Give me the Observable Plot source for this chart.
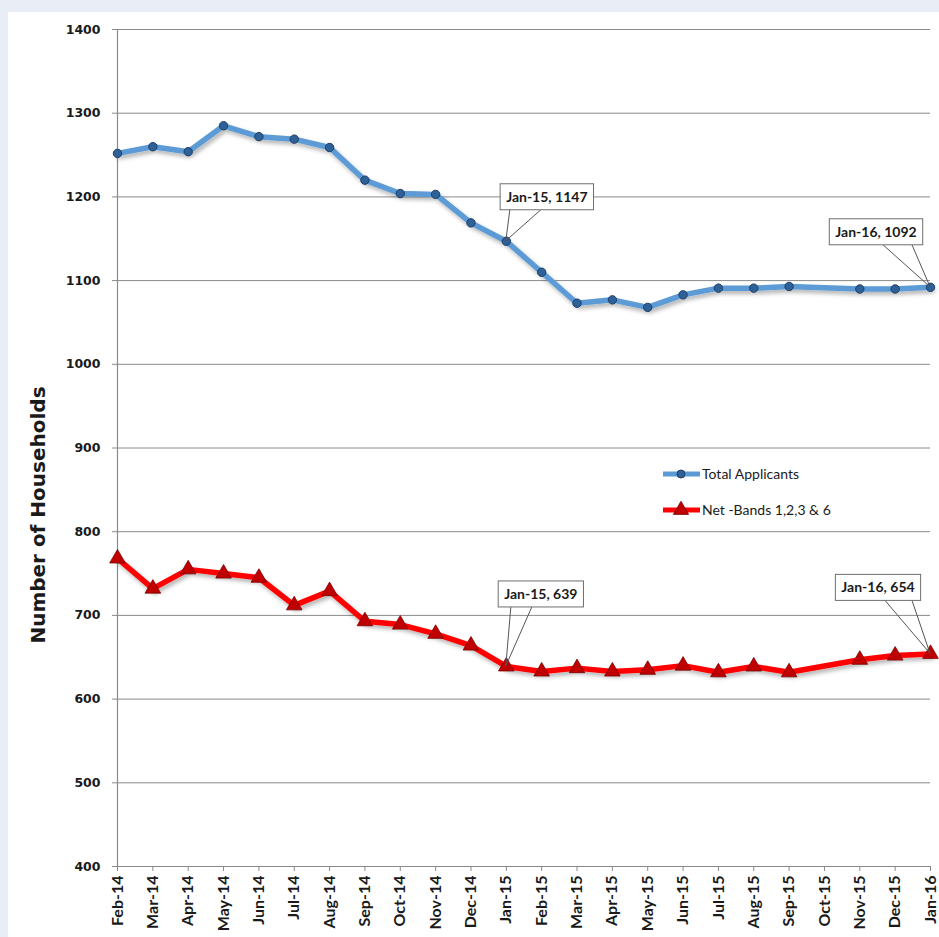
<!DOCTYPE html>
<html><head><meta charset="utf-8">
<script src="https://cdn.jsdelivr.net/npm/d3@7"></script>
<script src="https://cdn.jsdelivr.net/npm/@observablehq/plot@0.6"></script>
<style>
html,body{margin:0;padding:0;background:#e9edf6;}
#wrap{position:relative;width:939px;height:937px;overflow:hidden;}
#panel{position:absolute;left:8px;top:12px;width:931px;height:925px;background:#fff;}
#chart{position:absolute;left:0;top:0;}
#ytitle{position:absolute;left:38px;top:515px;transform:translate(-50%,-50%) rotate(-90deg);font:bold 20px "DejaVu Sans",sans-serif;white-space:nowrap;color:#1a1a1a;}
</style></head><body>
<div id="wrap"><div id="panel"></div><div id="chart"></div><div id="ytitle">Number of Households</div></div>
<script>
// ---- data ----
const months = ["Feb-14","Mar-14","Apr-14","May-14","Jun-14","Jul-14","Aug-14","Sep-14","Oct-14","Nov-14","Dec-14","Jan-15",
                "Feb-15","Mar-15","Apr-15","May-15","Jun-15","Jul-15","Aug-15","Sep-15","Oct-15","Nov-15","Dec-15","Jan-16"];
const totalApplicants = [1252,1260,1254,1285,1272,1269,1259,1220,1204,1203,1169,1147,
                         1110,1073,1077,1068,1083,1091,1091,1093,null,1090,1090,1092];
const netBands = [768,732,755,750,745,712,729,693,689,678,664,639,
                  633,637,633,635,640,632,639,632,null,647,652,654];
const seriesNames = ["Total Applicants","Net -Bands 1,2,3 & 6"];
const yTicks = [400,500,600,700,800,900,1000,1100,1200,1300,1400];
const calloutMonths = ["Jan-15","Jan-16"];

// ---- build tables ----
const seriesValues = [totalApplicants, netBands];
const rows = [];
seriesValues.forEach((vals, s) => months.forEach((m, i) => {
  if (vals[i] != null) rows.push({month: m, value: vals[i], series: seriesNames[s]});
}));
const blue = rows.filter(d => d.series === seriesNames[0]);
const red = rows.filter(d => d.series === seriesNames[1]);
const callouts = rows.filter(d => calloutMonths.includes(d.month)).map(d => ({...d, label: `${d.month}, ${d.value}`}));

const plot = Plot.plot({
  width: 939, height: 937,
  marginLeft: 117, marginRight: 9, marginTop: 29, marginBottom: 71,
  style: {background: "transparent", fontFamily: "Lato, sans-serif", color: "#1a1a1a"},
  x: {type: "point", domain: months, padding: 0, round: false, label: null},
  y: {domain: [400, 1400], label: null},
  marks: [
    Plot.gridY(yTicks, {stroke: "#8a8a8a", strokeOpacity: 1, strokeWidth: 1}),
    Plot.ruleX([months[0]], {stroke: "#8a8a8a", strokeWidth: 1.2}),
    Plot.ruleY([400], {stroke: "#8a8a8a", strokeWidth: 1.2}),
    Plot.axisY(yTicks, {tickSize: 5, tickPadding: 12, tickFormat: d => String(d), stroke: "#8a8a8a", fill: "#1a1a1a"}),
    Plot.axisX(months, {tickSize: 5, tickPadding: 4, tickRotate: -90, stroke: "#8a8a8a", fill: "#1a1a1a"}),
    Plot.line(blue, {x: "month", y: "value", stroke: "#5b9bd5", strokeWidth: 5.5, curve: "linear"}),
    Plot.dot(blue, {x: "month", y: "value", r: 4.2, fill: "#2f6199", stroke: "#1d3e66", strokeWidth: 1}),
    Plot.line(red, {x: "month", y: "value", stroke: "#ff0000", strokeWidth: 5.5}),
    Plot.dot(red, {x: "month", y: "value", symbol: "triangle", r: 5.8, fill: "#c00000", stroke: "#7a0000", strokeWidth: 0.8})
  ]
});
document.getElementById("chart").appendChild(plot);

// ---- post-processing: fonts, shadows, callouts, legend ----
const svg = d3.select(plot);
svg.selectAll('g[aria-label="y-axis tick label"] text')
  .style("font-family", "'DejaVu Sans', sans-serif").style("font-weight", "bold").style("font-size", "12.5px");
svg.selectAll('g[aria-label="x-axis tick label"] text')
  .style("font-family", "Lato, sans-serif").style("font-weight", "bold").style("font-size", "16px");

const defs = svg.insert("defs", ":first-child");
defs.append("filter").attr("id", "shadow").attr("x", "-5%").attr("y", "-20%").attr("width", "110%").attr("height", "140%")
  .append("feDropShadow").attr("dx", 2).attr("dy", 3).attr("stdDeviation", 2).attr("flood-color", "#000").attr("flood-opacity", 0.3);
svg.selectAll('g[aria-label="line"]').attr("filter", "url(#shadow)");

const xs = plot.scale("x"), ys = plot.scale("y");
const X = v => xs.apply(v), Y = v => ys.apply(v);

const layout = {
  "Jan-15|Total Applicants": {dx: 41, dy: -44, feet: [-37, -6]},
  "Jan-16|Total Applicants": {dx: -54, dy: -55, feet: [7, 36]},
  "Jan-15|Net -Bands 1,2,3 & 6": {dx: 35, dy: -72, feet: [-30, -9]},
  "Jan-16|Net -Bands 1,2,3 & 6": {dx: -52, dy: -66, feet: [7, 34]}
};
const cg = svg.append("g").attr("class", "callouts");
callouts.forEach(c => {
  const L = layout[`${c.month}|${c.series}`];
  const px = X(c.month), py = Y(c.value);
  const cx = px + L.dx, cy = py + L.dy;
  const g = cg.append("g");
  const rect = g.append("rect");
  const t = g.append("text").attr("x", cx).attr("y", cy).attr("text-anchor", "middle").attr("dy", "0.35em")
    .attr("font-family", "Lato, sans-serif").attr("font-weight", "bold").attr("font-size", 14).attr("fill", "#1a1a1a").text(c.label);
  const bb = t.node().getBBox();
  const padX = 6, h = 26;
  const bx = bb.x - padX, bw = bb.width + 2 * padX, by = cy - h / 2;
  rect.attr("x", bx).attr("y", by).attr("width", bw).attr("height", h)
    .attr("fill", "#fff").attr("stroke", "#6e6e6e").attr("stroke-width", 1);
  L.feet.forEach(f => {
    g.insert("line", ":first-child").attr("x1", cx + f).attr("y1", by + h).attr("x2", px).attr("y2", py)
      .attr("stroke", "#555").attr("stroke-width", 1);
  });
});

// legend
const lg = svg.append("g").attr("font-family", "Lato, sans-serif").attr("font-size", 14).attr("fill", "#1a1a1a").attr("text-anchor", "start");
const legendItems = [
  {name: seriesNames[0], color: "#5b9bd5", y: 474, sym: "dot"},
  {name: seriesNames[1], color: "#ff0000", y: 510, sym: "tri"}
];
legendItems.forEach(it => {
  lg.append("line").attr("x1", 663).attr("x2", 700).attr("y1", it.y).attr("y2", it.y)
    .attr("stroke", it.color).attr("stroke-width", 5);
  if (it.sym === "dot") lg.append("circle").attr("cx", 681).attr("cy", it.y).attr("r", 4).attr("fill", "#2f6199").attr("stroke", "#1d3e66");
  else lg.append("path").attr("d", d3.symbol(d3.symbolTriangle, 100)()).attr("transform", `translate(681,${it.y})`)
    .attr("fill", "#c00000").attr("stroke", "#7a0000").attr("stroke-width", 0.8);
  lg.append("text").attr("x", 702).attr("y", it.y).attr("dy", "0.35em").attr("text-anchor", "start").text(it.name);
});
</script>
</body></html>
